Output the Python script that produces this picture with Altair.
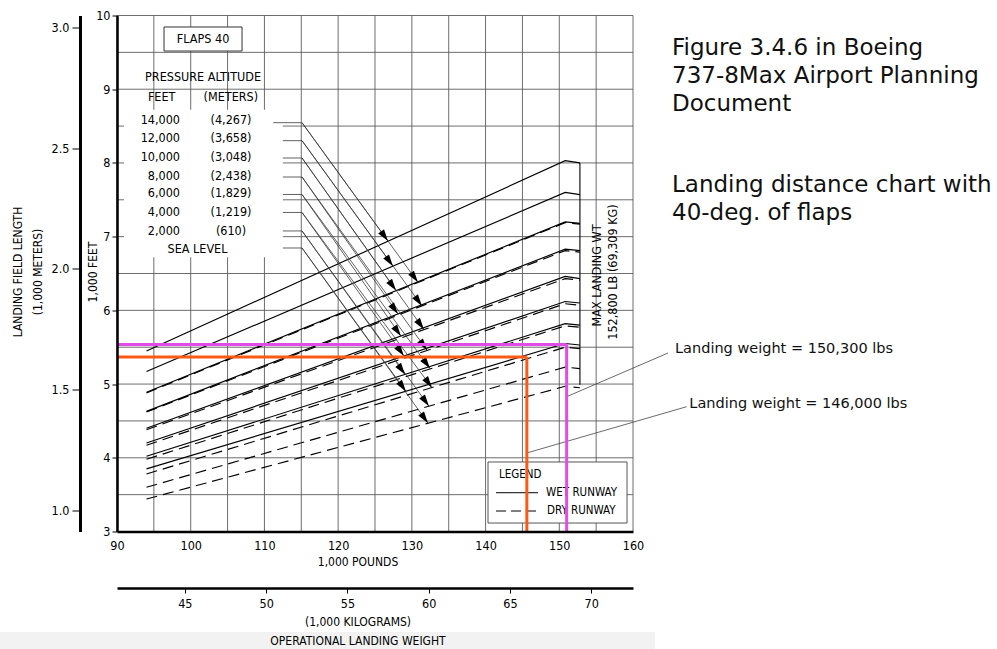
import altair as alt
import pandas as pd

CAD = "'DejaVu Sans Condensed', 'Liberation Sans Narrow', 'DejaVu Sans', sans-serif"
SANS = "'DejaVu Sans', 'Open Sans', sans-serif"

# ---------------- values ----------------
alt_feet = ["14,000", "12,000", "10,000", "8,000", "6,000", "4,000", "2,000"]
alt_meters = ["(4,267)", "(3,658)", "(3,048)", "(2,438)", "(1,829)", "(1,219)", "(610)"]

weight_points = [94.0, 150.8, 152.8]          # 1,000 lb : start, knee, max landing wt
wet_start = [5.45, 5.17, 4.89, 4.63, 4.40, 4.20, 4.02, 3.85]   # 1,000 ft
wet_knee = [8.03, 7.60, 7.20, 6.83, 6.46, 6.12, 5.82, 5.55]
wet_end = [8.00, 7.57, 7.18, 6.81, 6.43, 6.10, 5.80, 5.53]
dry_start = [4.88, 4.62, 4.38, 4.17, 3.98, 3.78, 3.60, 3.44]
dry_knee = [7.19, 6.81, 6.43, 6.09, 5.79, 5.50, 5.23, 4.97]
dry_end = [7.17, 6.79, 6.41, 6.07, 5.77, 5.48, 5.21, 4.95]

max_landing_wt = 152.8
max_line_low, max_line_high = 4.99, 8.00

leader_x0 = 115.1
leader_y0 = [8.546, 8.302, 8.067, 7.809, 7.572, 7.328, 7.077, 6.846]
stub_x = [111.2, 112.5, 112.5, 112.5, 112.5, 112.5, 112.5, 112.5]
wet_tip_x = [126.76, 127.44, 127.85, 128.12, 128.53, 128.93, 129.07, 129.20]
wet_tip_y = [6.94, 6.60, 6.27, 5.95, 5.65, 5.38, 5.13, 4.90]
dry_tip_x = [130.83, 131.37, 131.64, 132.05, 132.46, 132.73, 132.32, 132.19]
dry_tip_y = [6.38, 6.06, 5.74, 5.46, 5.21, 4.95, 4.70, 4.47]

case_weight = [151.0, 145.6]
case_length = [5.537, 5.367]
case_color = ["#e14be6", "#fa5a14"]
case_label = ["Landing weight = 150,300 lbs", "Landing weight = 146,000 lbs"]
case_lead_from = [(151.0, 4.829), (145.58, 4.065)]
case_lead_to = [(164.75, 5.421), (167.28, 4.693)]
case_text_at = [(165.7, 5.472), (167.64, 4.730)]

lb_ticks = [90, 100, 110, 120, 130, 140, 150, 160]
ft_ticks = [3, 4, 5, 6, 7, 8, 9, 10]
m_ticks = [1.0, 1.5, 2.0, 2.5, 3.0]
kg_ticks = [45, 50, 55, 60, 65, 70]
grid_lb = [90, 95, 100, 105, 110, 115, 120, 125, 130, 135, 140, 145, 150, 155, 160]
grid_ft = [3, 3.5, 4, 4.5, 5, 5.5, 6, 6.5, 7, 7.5, 8, 8.5, 9, 9.5, 10]

LB_TO_KG = 0.45359237
FT_TO_M = 0.3048
x_dom = [90, 160]
y_dom = [3, 10]

# ---------------- helpers ----------------
xs = alt.Scale(domain=x_dom, nice=False, zero=False)
ys = alt.Scale(domain=y_dom, nice=False, zero=False)

x_axis = alt.Axis(values=lb_ticks, ticks=False, grid=False, domainColor="black",
                  domainWidth=2.5, labelFont=CAD, labelFontSize=12.5, labelColor="black",
                  labelPadding=8, labelFlush=False, title=None, zindex=1)
y_axis = alt.Axis(values=ft_ticks, tickSize=5, tickColor="black", grid=False,
                  domainColor="black", domainWidth=2.5, labelFont=CAD, labelFontSize=12.5,
                  labelColor="black", labelPadding=2, labelFlush=False, title=None, zindex=1)


def X(f):
    return alt.X(f, type="quantitative", scale=xs, axis=x_axis)


def Y(f):
    return alt.Y(f, type="quantitative", scale=ys, axis=y_axis)


def note(text, x, y, **kw):
    d = pd.DataFrame({"x": [x], "y": [y], "t": [text]})
    base = dict(font=CAD, fontSize=12.5, color="black", baseline="middle")
    base.update(kw)
    return alt.Chart(d).mark_text(**base).encode(x=X("x"), y=Y("y"), text="t:N")


def pnote(text, px, py, **kw):
    base = dict(font=SANS, fontSize=23, color="#111111", baseline="middle", align="left")
    base.update(kw)
    return alt.Chart(alt.Data(values=[{}])).mark_text(text=text, **base).encode(
        x=alt.value(px), y=alt.value(py))


def box(x, x2, y, y2, **kw):
    d = pd.DataFrame({"x": [x], "x2": [x2], "y": [y], "y2": [y2]})
    return alt.Chart(d).mark_rect(**kw).encode(
        x=X("x"), x2=alt.X2("x2"), y=Y("y"), y2=alt.Y2("y2"))


layers = []

# light strip at the bottom of the screenshot
layers.append(alt.Chart(alt.Data(values=[{}])).mark_rect(color="#f2f2f2").encode(
    x=alt.value(-117), x2=alt.value(538), y=alt.value(616.5), y2=alt.value(633.5)))

# grid
layers.append(alt.Chart(pd.DataFrame({"x": grid_lb})).mark_rule(
    color="#5c5c5c", strokeWidth=0.9).encode(x=X("x")))
layers.append(alt.Chart(pd.DataFrame({"y": grid_ft})).mark_rule(
    color="#5c5c5c", strokeWidth=0.9).encode(y=Y("y")))

# white backings
layers.append(box(90.95, 112.5, 6.72, 8.72, fill="white"))
layers.append(box(96.38, 106.96, 9.518, 9.844, fill="white", stroke="#333333", strokeWidth=1))
layers.append(box(140.33, 159.19, 3.115, 3.943, fill="white", stroke="#555555", strokeWidth=1))

# performance lines
rows = []
for i in range(8):
    for j, w in enumerate(weight_points):
        rows.append(dict(series=f"wet{i}", kind="wet", x=w, o=j,
                         y=[wet_start, wet_knee, wet_end][j][i]))
        rows.append(dict(series=f"dry{i}", kind="dry", x=w, o=j,
                         y=[dry_start, dry_knee, dry_end][j][i]))
lines = pd.DataFrame(rows)
layers.append(alt.Chart(lines[lines.kind == "wet"]).mark_line(
    color="black", strokeWidth=1.15).encode(
    x=X("x"), y=Y("y"), detail="series:N", order="o:Q"))
layers.append(alt.Chart(lines[lines.kind == "dry"]).mark_line(
    color="black", strokeWidth=1.15, strokeDash=[11, 6]).encode(
    x=X("x"), y=Y("y"), detail="series:N", order="o:Q"))

# max landing weight line
layers.append(alt.Chart(pd.DataFrame({"x": [max_landing_wt], "y": [max_line_low], "y2": [max_line_high]}))
              .mark_rule(color="black", strokeWidth=1.1)
              .encode(x=X("x"), y=Y("y"), y2=alt.Y2("y2")))

# leaders and arrows
lead = pd.DataFrame({
    "x0": [leader_x0] * 16,
    "y0": leader_y0 + leader_y0,
    "x1": wet_tip_x + dry_tip_x,
    "y1": wet_tip_y + dry_tip_y,
})
layers.append(alt.Chart(lead).mark_rule(color="#3a3a3a", strokeWidth=0.8).encode(
    x=X("x0"), y=Y("y0"), x2=alt.X2("x1"), y2=alt.Y2("y1")))
stubs = pd.DataFrame({"x0": stub_x, "x1": [leader_x0] * 8, "y0": leader_y0})
layers.append(alt.Chart(stubs).mark_rule(color="#3a3a3a", strokeWidth=0.8).encode(
    x=X("x0"), x2=alt.X2("x1"), y=Y("y0")))
layers.append(alt.Chart(lead).mark_point(
    shape="M0,0L-0.3,-1L0.3,-1Z", filled=True, color="black", opacity=1,
    size=560, angle=324.5, strokeWidth=0).encode(x=X("x1"), y=Y("y1")))

# pressure altitude table
layers.append(note("FLAPS 40", 101.67, 9.681, align="center"))
layers.append(note("PRESSURE ALTITUDE", 101.67, 9.166, align="center"))
layers.append(note("FEET", 96.06, 8.898, align="center"))
layers.append(note("(METERS)", 105.44, 8.898, align="center"))
row_y = [8.582, 8.334, 8.080, 7.827, 7.588, 7.334, 7.081]
for ft, m, yy in zip(alt_feet, alt_meters, row_y):
    layers.append(note(ft, 98.55, yy, align="right"))
    layers.append(note(m, 105.47, yy, align="center"))
layers.append(note("SEA LEVEL", 100.92, 6.832, align="center"))

# max landing weight text
layers.append(note("MAX LANDING WT", 155.12, 6.473, align="center", angle=270))
layers.append(note("152,800 LB (69,309 KG)", 157.29, 6.52, align="center", angle=270))

# legend
layers.append(note("LEGEND", 141.82, 3.771, align="left", fontSize=11.5))
samp = pd.DataFrame({"x": [141.42], "x2": [147.11], "yw": [3.526], "yd": [3.278]})
layers.append(alt.Chart(samp).mark_rule(color="black", strokeWidth=1).encode(
    x=X("x"), x2=alt.X2("x2"), y=Y("yw")))
layers.append(alt.Chart(samp).mark_rule(color="black", strokeWidth=1, strokeDash=[10, 5]).encode(
    x=X("x"), x2=alt.X2("x2"), y=Y("yd")))
layers.append(note("WET RUNWAY", 148.2, 3.526, align="left", fontSize=11.5))
layers.append(note("DRY RUNWAY", 148.33, 3.278, align="left", fontSize=11.5))

# example cases: leaders & labels
for (fx, fy), (tx, ty), (lx, ly), lab in zip(case_lead_from, case_lead_to, case_text_at, case_label):
    d = pd.DataFrame({"x": [fx], "y": [fy], "x2": [tx], "y2": [ty]})
    layers.append(alt.Chart(d).mark_rule(color="#444444", strokeWidth=0.8).encode(
        x=X("x"), y=Y("y"), x2=alt.X2("x2"), y2=alt.Y2("y2")))
    layers.append(note(lab, lx, ly, align="left", font=SANS, fontSize=14.5, color="#111111"))

# coloured example lines
cases = pd.DataFrame({"w": case_weight, "L": case_length, "c": case_color,
                      "x0": [x_dom[0]] * 2, "y0": [y_dom[0]] * 2})
for k in range(2):
    d = cases.iloc[[k]]
    layers.append(alt.Chart(d).mark_rule(color=case_color[k], strokeWidth=3).encode(
        x=X("x0"), x2=alt.X2("w"), y=Y("L")))
    layers.append(alt.Chart(d).mark_rule(color=case_color[k], strokeWidth=3).encode(
        x=X("w"), y=Y("y0"), y2=alt.Y2("L")))

# axis titles
for t, px in [("1,000 FEET", -24), ("LANDING FIELD LENGTH", -99), ("(1,000 METERS)", -79)]:
    layers.append(alt.Chart(alt.Data(values=[{}])).mark_text(
        text=t, font=CAD, fontSize=12, angle=270, align="center", baseline="middle",
        color="black").encode(x=alt.value(px), y=alt.value(256.5)))
for t, py in [("1,000 POUNDS", 546.5), ("(1,000 KILOGRAMS)", 606.5),
              ("OPERATIONAL LANDING WEIGHT", 625.5)]:
    layers.append(alt.Chart(alt.Data(values=[{}])).mark_text(
        text=t, font=CAD, fontSize=12, align="center", baseline="middle",
        color="black").encode(x=alt.value(241), y=alt.value(py)))

# right-hand caption
for t, py in [("Figure 3.4.6 in Boeing", 32.5), ("737-8Max Airport Planning", 60.5),
              ("Document", 88.5), ("Landing distance chart with", 169.5),
              ("40-deg. of flaps", 197.5)]:
    layers.append(pnote(t, 555, py))

main = alt.layer(*layers)

m_axis = alt.Axis(orient="left", offset=37, values=m_ticks, format=".1f", tickSize=8,
                  tickColor="black", grid=False, domainColor="black", domainWidth=3,
                  labelFont=CAD, labelFontSize=12.5, labelColor="black", labelPadding=3,
                  labelFlush=False, title=None, zindex=1)
meters = alt.Chart(pd.DataFrame({"m": [y_dom[0] * FT_TO_M, y_dom[1] * FT_TO_M]})).mark_point(
    opacity=0).encode(y=alt.Y("m:Q", scale=alt.Scale(domain=[y_dom[0] * FT_TO_M, y_dom[1] * FT_TO_M],
                                                     nice=False, zero=False), axis=m_axis))
kg_axis = alt.Axis(orient="bottom", offset=56.5, values=kg_ticks, tickSize=5,
                   tickColor="black", grid=False, domainColor="black", domainWidth=2.5,
                   labelFont=CAD, labelFontSize=12.5, labelColor="black", labelPadding=4,
                   labelFlush=False, title=None, zindex=1)
kg = alt.Chart(pd.DataFrame({"k": [x_dom[0] * LB_TO_KG, x_dom[1] * LB_TO_KG]})).mark_point(
    opacity=0).encode(x=alt.X("k:Q", scale=alt.Scale(domain=[x_dom[0] * LB_TO_KG, x_dom[1] * LB_TO_KG],
                                                     nice=False, zero=False), axis=kg_axis))

chart = alt.layer(main, meters, kg).resolve_scale(x="independent", y="independent").properties(
    width=516, height=516,
    padding={"left": 117, "top": 15.5, "right": 364, "bottom": 117.5},
    autosize=alt.AutoSizeParams(type="none"),
    background="white",
).configure_view(stroke=None)

chart.save("out.html", embed_options={"renderer": "svg", "actions": False})
